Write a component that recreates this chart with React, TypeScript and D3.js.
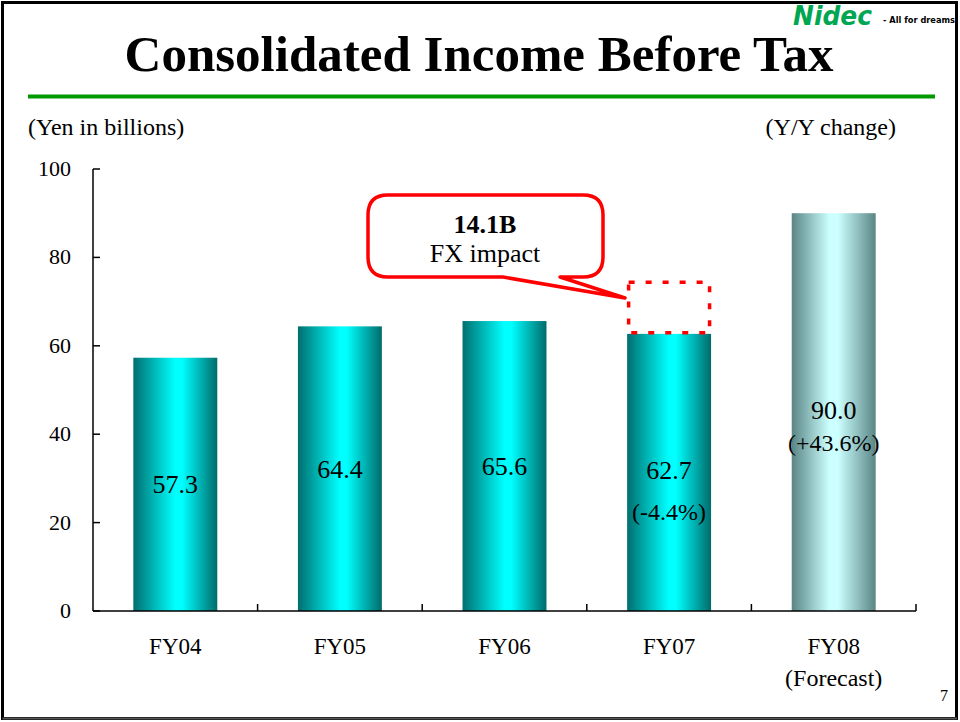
import React from "react";
import * as d3 from "d3";

const categories = ["FY04", "FY05", "FY06", "FY07", "FY08"];
const subLabels = ["", "", "", "", "(Forecast)"];
const values = [57.3, 64.4, 65.6, 62.7, 90.0];
const valueLabels = ["57.3", "64.4", "65.6", "62.7", "90.0"];
const changeLabels = ["", "", "", "(-4.4%)", "(+43.6%)"];
const valueLabelY = [26.7, 30.0, 30.8, 29.9, 43.4]; // value at which label baseline sits
const changeLabelY = [0, 0, 0, 20.6, 36.2];
const yTicks = [0, 20, 40, 60, 80, 100];
const fxTop = 74.4;
const fxCategory = "FY07";

const W = 960;
const H = 722;
const serif = "'Liberation Serif', 'Times New Roman', serif";

export default function App() {
  const x = d3.scaleBand<string>().domain(categories).range([93, 916]).paddingInner(0.49).paddingOuter(0.245);
  const xb = d3.scaleBand<string>().domain(categories).range([93, 916]);
  const y = d3.scaleLinear().domain([0, 100]).range([611, 169]);
  const bw = x.bandwidth();
  const fx0 = x(fxCategory)!;

  return (
    <svg width={W} height={H} style={{ position: "absolute", left: 0, top: 0, background: "#fff" }} fontFamily={serif}>
      <defs>
        <linearGradient id="gTeal" x1="0" x2="1" y1="0" y2="0">
          <stop offset="0" stopColor="#006f6f" />
          <stop offset="0.5" stopColor="#00ffff" />
          <stop offset="0.58" stopColor="#00ffff" />
          <stop offset="1" stopColor="#006b6b" />
        </linearGradient>
        <linearGradient id="gLight" x1="0" x2="1" y1="0" y2="0">
          <stop offset="0" stopColor="#5a8585" />
          <stop offset="0.45" stopColor="#ccffff" />
          <stop offset="0.55" stopColor="#ccffff" />
          <stop offset="1" stopColor="#5a8585" />
        </linearGradient>
      </defs>
      {/* page border */}
      <rect x={2.5} y={2.5} width={954} height={716} fill="none" stroke="#000" strokeWidth={3} />
      <line x1={2.5} x2={957} y1={718.5} y2={718.5} stroke="#555" strokeWidth={2} />

      {/* logo */}
      <text x={793} y={25} fill="#00a651" fontSize={26} fontWeight={900} fontStyle="italic" fontFamily="'DejaVu Sans', sans-serif" textLength={79} lengthAdjust="spacingAndGlyphs">Nidec</text>
      <text x={883} y={23} fill="#000" fontSize={8} fontWeight={900} fontFamily="'DejaVu Sans', sans-serif" textLength={72} lengthAdjust="spacingAndGlyphs">- All for dreams</text>

      {/* title */}
      <text x={479} y={71} textAnchor="middle" fontSize={51} fontWeight="bold">Consolidated Income Before Tax</text>
      <line x1={28} x2={935} y1={96.5} y2={96.5} stroke="#009900" strokeWidth={4} />

      <text x={28} y={135} fontSize={24}>(Yen in billions)</text>
      <text x={896} y={135} fontSize={24} textAnchor="end">(Y/Y change)</text>

      {/* bars */}
      {categories.map((c, i) => (
        <rect key={c} x={x(c)} y={y(values[i])} width={bw} height={y(0) - y(values[i])} fill={i === 4 ? "url(#gLight)" : "url(#gTeal)"} />
      ))}

      {/* axes */}
      <line x1={93} x2={93} y1={169} y2={611} stroke="#000" strokeWidth={1.5} />
      <line x1={93} x2={916} y1={611} y2={611} stroke="#000" strokeWidth={1.5} />
      {yTicks.map((t) => (
        <g key={t}>
          <line x1={93} x2={100} y1={y(t)} y2={y(t)} stroke="#000" strokeWidth={1.5} />
          <text x={71} y={y(t) + 7} fontSize={22} textAnchor="end">{t}</text>
        </g>
      ))}
      {categories.map((c) => (
        <line key={c} x1={xb(c)! + xb.bandwidth()} x2={xb(c)! + xb.bandwidth()} y1={611} y2={604} stroke="#000" strokeWidth={1.5} />
      ))}
      {categories.map((c, i) => (
        <g key={c}>
          <text x={xb(c)! + xb.bandwidth() / 2} y={654} fontSize={23} textAnchor="middle">{c}</text>
          {subLabels[i] && <text x={xb(c)! + xb.bandwidth() / 2} y={686} fontSize={24} textAnchor="middle">{subLabels[i]}</text>}
        </g>
      ))}

      {/* value labels */}
      {categories.map((c, i) => (
        <g key={c}>
          <text x={x(c)! + bw / 2} y={y(valueLabelY[i])} fontSize={26} textAnchor="middle">{valueLabels[i]}</text>
          {changeLabels[i] && <text x={x(c)! + bw / 2} y={y(changeLabelY[i])} fontSize={24} textAnchor="middle">{changeLabels[i]}</text>}
        </g>
      ))}

      {/* FX dashed box */}
      <rect x={fx0 + 1.5} y={y(fxTop)} width={bw - 3} height={y(values[3]) - y(fxTop) - 1} fill="none" stroke="#ff0000" strokeWidth={3.5} strokeDasharray="6 11" />

      {/* callout */}
      <path
        d={`M 388 195 H 583 Q 603 195 603 215 V 257 Q 603 277 583 277 H 560 L 625 298 L 503 277 H 388 Q 368 277 368 257 V 215 Q 368 195 388 195 Z`}
        fill="#fff" stroke="#ff0000" strokeWidth={3.5} strokeLinejoin="round"
      />
      <text x={485} y={233} fontSize={26} fontWeight="bold" textAnchor="middle">14.1B</text>
      <text x={485} y={262} fontSize={26} textAnchor="middle">FX impact</text>

      <text x={944} y={701} fontSize={16} textAnchor="middle">7</text>
    </svg>
  );
}
